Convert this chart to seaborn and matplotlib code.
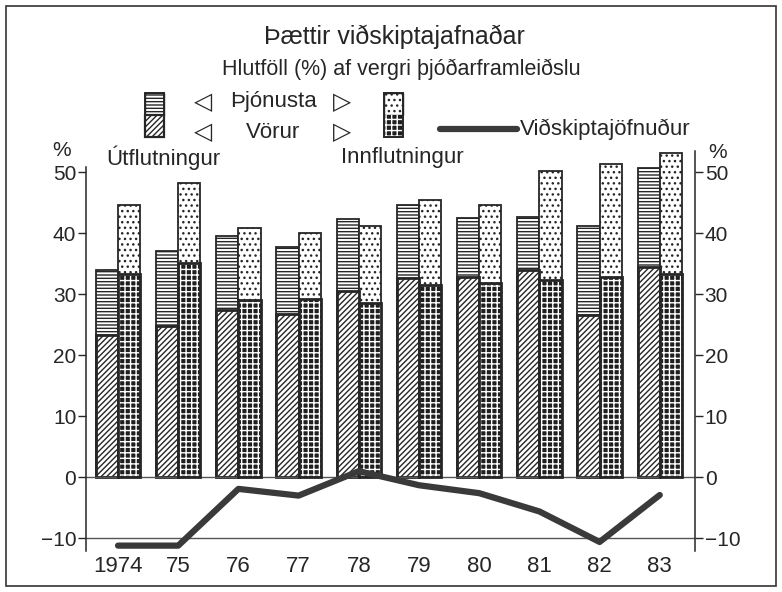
import numpy as np
import pandas as pd
import seaborn as sns
import matplotlib.pyplot as plt
from matplotlib.patches import Rectangle
from matplotlib.lines import Line2D

# Values (% of GDP)
years = ["1974", "75", "76", "77", "78", "79", "80", "81", "82", "83"]
exports_total = [34.0, 37.1, 39.5, 37.7, 42.4, 44.7, 42.5, 42.7, 41.2, 50.7]
exports_goods = [23.3, 24.8, 27.5, 26.7, 30.6, 32.6, 32.8, 34.0, 26.6, 34.4]
imports_total = [44.6, 48.2, 40.9, 40.0, 41.2, 45.5, 44.7, 50.2, 51.3, 53.2]
imports_goods = [33.3, 35.1, 29.0, 29.3, 28.5, 31.5, 31.8, 32.3, 32.8, 33.4]
balance = [-11.2, -11.2, -1.9, -3.0, 1.0, -1.3, -2.6, -5.6, -10.6, -2.9]
yticks = [-10, 0, 10, 20, 30, 40, 50]

flows = ["Útflutningur", "Innflutningur"]

sns.set_style("white")
plt.rcParams['font.family'] = ['Liberation Sans', 'DejaVu Sans']
plt.rcParams['hatch.linewidth'] = 1.0

df = pd.DataFrame({
    "year": years * 2,
    "flow": [flows[0]] * len(years) + [flows[1]] * len(years),
    "total": exports_total + imports_total,
    "goods": exports_goods + imports_goods,
})

W, H = 782, 592
fig = plt.figure(figsize=(W / 100, H / 100), dpi=100)
ax = fig.add_axes([86 / W, 1 - 550.5 / H, 609 / W, 399.5 / H])

ink = "#262626"
dark = "#1f1f1f"
bar_kw = dict(order=years, hue_order=flows, width=0.74, gap=0, dodge=True,
              legend=False, errorbar=None, saturation=1,
              palette=["white", "white"], edgecolor=ink, linewidth=1.3, ax=ax)
sns.barplot(data=df, x="year", y="total", hue="flow", **bar_kw)
sns.barplot(data=df, x="year", y="goods", hue="flow", **bar_kw)

exp_serv, imp_serv, exp_goods, imp_goods = ax.containers[:4]
for p in exp_serv:
    p.set_hatch("-----")
for p in imp_serv:
    p.set_hatch("...")
for p in exp_goods:
    p.set_hatch("//////")
    p.set_linewidth(2)
for p in imp_goods:
    p.set_facecolor(dark)
    p.set_edgecolor("white")
    p.set_hatch("+++")
    p.set_linewidth(0)
    ax.add_patch(Rectangle(p.get_xy(), p.get_width(), p.get_height(),
                           fill=False, ec=ink, lw=2, zorder=p.get_zorder() + 0.1))

# trade balance line
sns.lineplot(x=np.arange(len(years)), y=balance, ax=ax, color="#3a3a3a",
             linewidth=4.5, zorder=5)

ax.axhline(0, color="#555555", lw=1, zorder=1)
ax.axhline(-10, color="#555555", lw=1, zorder=1)

ax.set_xlim(-0.532, 9.585)
ax.set_ylim(-12, 53.5)
ax.set_yticks(yticks)
ax.set_xlabel("")
ax.set_ylabel("")
ax.tick_params(axis="y", left=True, right=True, labelleft=True, labelright=True,
               direction="out", length=6, width=1, color=ink, labelsize=15,
               labelcolor=ink, pad=1)
ax.tick_params(axis="x", length=0, labelsize=16, labelcolor=ink, pad=4)
for s in ["top", "bottom"]:
    ax.spines[s].set_visible(False)
for s in ["left", "right"]:
    ax.spines[s].set_color(ink)
    ax.spines[s].set_linewidth(1.1)
ax.spines["left"].set_bounds(-12, 50.8)


def fx(x):
    return x / W


def fy(y):
    return 1 - y / H


# titles
fig.text(fx(394), fy(37), "Þættir viðskiptajafnaðar", ha="center", va="center",
         fontsize=18, color=ink)
fig.text(fx(401), fy(69), "Hlutföll (%) af vergri þjóðarframleiðslu",
         ha="center", va="center", fontsize=15.5, color=ink)

# legend icons
def icon(x0, top_hatch, bottom_kw):
    fig.add_artist(Rectangle((fx(x0), fy(115)), 19 / W, 22 / H, transform=fig.transFigure,
                             fc="white", ec=ink, lw=1, hatch=top_hatch))
    fig.add_artist(Rectangle((fx(x0), fy(137)), 19 / W, 22 / H, transform=fig.transFigure,
                             **bottom_kw))
    fig.add_artist(Rectangle((fx(x0), fy(137)), 19 / W, 44 / H, transform=fig.transFigure,
                             fill=False, ec=ink, lw=1.4))


icon(145, "-----", dict(fc="white", ec=ink, lw=1.6, hatch="//////"))
icon(384, "...", dict(fc=dark, ec="white", lw=0, hatch="+++"))

for yy, word in [(102, "Þjónusta"), (132, "Vörur")]:
    fig.text(fx(203), fy(yy), "◁", ha="center", va="center", fontsize=17, color=ink,
             family="DejaVu Sans")
    fig.text(fx(342), fy(yy), "▷", ha="center", va="center", fontsize=17, color=ink,
             family="DejaVu Sans")
    fig.text(fx(273), fy(yy), word, ha="center", va="center", fontsize=16, color=ink)

fig.text(fx(163), fy(158), "Útflutningur", ha="center", va="center", fontsize=16, color=ink)
fig.text(fx(402), fy(158), "Innflutningur", ha="center", va="center", fontsize=16, color=ink)

fig.add_artist(Line2D([fx(440), fx(517)], [fy(129), fy(129)], transform=fig.transFigure,
                      color="#3a3a3a", lw=4.5))
fig.text(fx(520), fy(129), "Viðskiptajöfnuður", ha="left", va="center", fontsize=16,
         color=ink)

fig.text(fx(62), fy(150), "%", ha="center", va="center", fontsize=15, color=ink)
fig.text(fx(718), fy(152), "%", ha="center", va="center", fontsize=15, color=ink)

# outer frame
fig.add_artist(Rectangle((fx(6), fy(586)), 770 / W, 580 / H, transform=fig.transFigure,
                         fill=False, ec="#333333", lw=1.2))

fig.savefig("out.png", dpi=100)
